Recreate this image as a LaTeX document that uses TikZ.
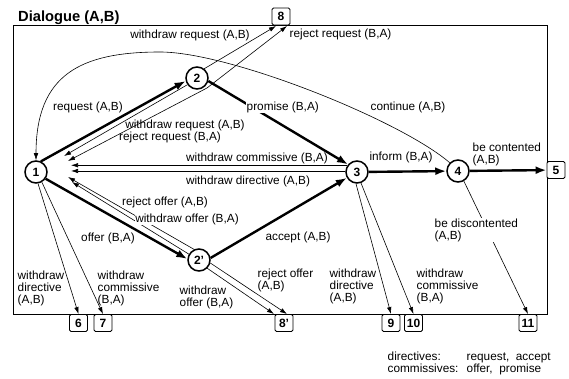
\documentclass[tikz,border=0pt]{standalone}
\usepackage{fontspec}
\setmainfont{Liberation Sans}
\usetikzlibrary{arrows.meta}

\tikzset{
  state/.style={circle, draw, line width=1.5pt, fill=white, minimum size=22pt, inner sep=0pt, font=\bfseries\fontsize{12}{12}\selectfont},
  endbox/.style={draw, line width=0.9pt, rounded corners=1.5pt, fill=white, minimum width=18pt, minimum height=17pt, inner sep=1pt, font=\bfseries\fontsize{12}{12}\selectfont},
  move/.style={line width=2.4pt, -{Latex[length=11pt,width=8pt]}},
  jump/.style={line width=0.6pt, -{Latex[length=7pt,width=4.5pt]}},
  lbl/.style={inner sep=0.5pt, font=\fontsize{11.8}{12}\selectfont, align=left},
}

\begin{document}
\begin{tikzpicture}[x=1pt, y=-1pt]
\useasboundingbox (0,0) rectangle (569,379);
% Frame and title
\draw[line width=0.9pt] (13,25) rectangle (547,314);
\node[anchor=base west, inner sep=0pt, font=\bfseries\fontsize{14.7}{16}\selectfont] (title) at (18,22) {Dialogue (A,B)};

% States
\node[state] (n1) at (36,172) {1};
\node[state] (n2) at (197,78) {2};
\node[state] (n2p) at (199,260) {2'};
\node[state] (n3) at (357,172) {3};
\node[state] (n4) at (458,171) {4};

% End boxes on the frame
\node[endbox] (b8) at (281,16.5) {8};
\node[endbox] (b5) at (556,170) {5};
\node[endbox] (b6) at (78.5,323) {6};
\node[endbox] (b7) at (103,323) {7};
\node[endbox] (b8p) at (284,323) {8'};
\node[endbox] (b9) at (391,323) {9};
\node[endbox] (b10) at (413.5,323) {10};
\node[endbox] (b11) at (528,323) {11};

% Free ends of the jumps
\coordinate (a1) at (64,156);
\coordinate (b1) at (68,161);
\coordinate (pB) at (207,88);
\coordinate (a8) at (276,26);
\coordinate (b8e) at (287,26);
\coordinate (d1) at (68,177);
\coordinate (c1) at (72,182);
\coordinate (c8) at (274,314);
\coordinate (d8) at (287,314);
\coordinate (w1) at (71,0);
\coordinate (peak) at (160,52);

% Jumps from 2 back to 1 and on to 8
\draw[jump] (n2.215) -- (a1);
\draw[jump] (n2.52) -- (a8);
\draw[jump] (pB) -- (b1);
\draw[jump] (pB) -- (b8e);
% Jumps from 3 back to 1
\draw[jump] (n3.145) -- (w1 |- n3.145);
\draw[jump] (n3.175) -- (w1 |- n3.175);
% Jumps from 2' back to 1 and on to 8'
\draw[jump] (n2p.150) -- (c1);
\draw[jump] (n2p.-45) -- (c8);
\draw[jump] (n2p.115) -- (d1);
\draw[jump] (n2p.-15) -- (d8);
% Jumps to the end boxes
\draw[jump] (n1.-80) -- (b6.north);
\draw[jump] (n1.-60) -- (b7.north);
\draw[jump] (n3.-95) -- (b9.north);
\draw[jump] (n3.-70) -- (b10.north);
\draw[jump] (n4.-60) -- (b11.north);
% Continue
\draw[jump] (n4.135) .. controls (400,120) and (230,52) .. (peak)
  .. controls (80,52) and (36,75) .. (n1.north);

% Main moves
\draw[move] (n1.65) -- (n2.195);
\draw[move] (n2.-15) -- (n3.140);
\draw[move] (n1.-35) -- (n2p.175);
\draw[move] (n2p.10) -- (n3.-150);
\draw[move] (n3) -- (n4);
\draw[move] (n4) -- (b5);

% Labels
\node[lbl] (lwr8) at (190,35) {withdraw request (A,B)};
\node[lbl, anchor=west] (lrr8) at (289,34) {reject request (B,A)};
\node[lbl] (lreq) at (88,107) {request (A,B)};
\node[lbl, anchor=west, fill=white] (lprom) at (246,107) {promise (B,A)};
\node[lbl] (lwr1) at (185,125) {withdraw request (A,B)};
\node[lbl] (lrr1) at (170,137) {reject request (B,A)};
\node[lbl] (lwc) at (257,158) {withdraw commissive (B,A)};
\node[lbl] (lwd) at (248,181) {withdraw directive (A,B)};
\node[lbl, fill=white] (lro) at (165,202) {reject offer (A,B)};
\node[lbl, fill=white] (lwo) at (187,219) {withdraw offer (B,A)};
\node[lbl] (loffer) at (108,238) {offer (B,A)};
\node[lbl] (lacc) at (298,237) {accept (A,B)};
\node[lbl] (linf) at (401,157) {inform (B,A)};
\node[lbl] (lcont) at (408,107) {continue (A,B)};
\node[lbl, anchor=north west] (lcontent) at (472,142) {be contented\\(A,B)};
\node[lbl, anchor=north west, fill=white] (ldisc) at (434,218) {be discontented\\(A,B)};
\node[lbl, anchor=north west] (lwd6) at (17,270) {withdraw\\directive\\(A,B)};
\node[lbl, anchor=north west] (lwc7) at (97,270) {withdraw\\commissive\\(B,A)};
\node[lbl, anchor=north west] (lwo8) at (179,285) {withdraw\\offer (B,A)};
\node[lbl, anchor=north west] (lro8) at (257,268) {reject offer\\(A,B)};
\node[lbl, anchor=north west] (lwd9) at (329,268) {withdraw\\directive\\(A,B)};
\node[lbl, anchor=north west] (lwc10) at (416,268) {withdraw\\commissive\\(B,A)};
% Legend
\node[lbl, anchor=north west] (legend) at (387,351) {\begin{tabular}{@{}p{79pt}@{}l@{}}
directives: & request,~ accept\\
commissives: & offer,~ promise
\end{tabular}};
\end{tikzpicture}
\end{document}
